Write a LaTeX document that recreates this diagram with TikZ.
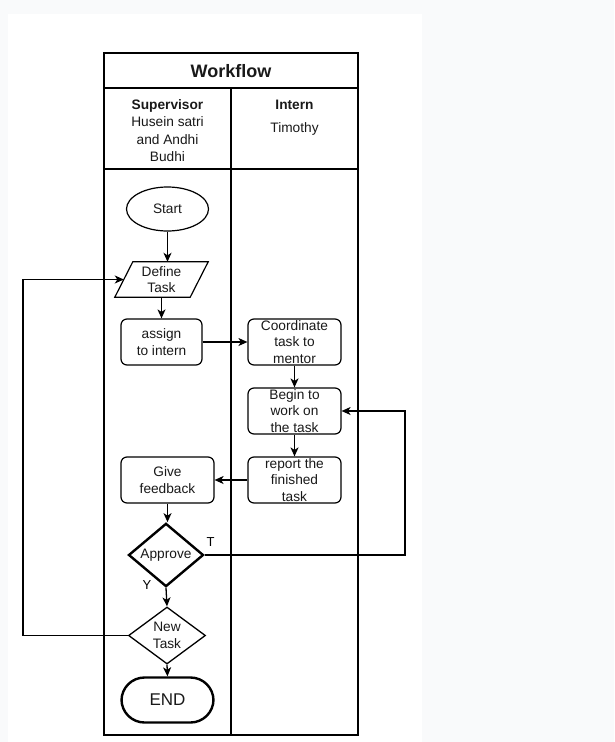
\documentclass[tikz,border=0pt]{standalone}
\usepackage{fontspec}
\setmainfont{Liberation Sans}
\usetikzlibrary{shapes.geometric,arrows.meta}
\definecolor{pagebg}{HTML}{F9FAFB}
\tikzset{
  txt/.style={font=\fontsize{13.7}{16.5}\selectfont, align=center, inner sep=0pt, text=black!90},
  box/.style={txt, draw, line width=1.2pt, rounded corners=6pt, minimum width=93pt, minimum height=46pt},
  lanes/.style={line width=1.3pt},
  conn/.style={line width=1.3pt, -{Stealth[length=9pt,width=8pt,inset=2.5pt]}},
  lbl/.style={font=\fontsize{13}{15}\selectfont, inner sep=0pt}
}
\begin{document}
\begin{tikzpicture}[x=1pt,y=-1pt]
\useasboundingbox (0,0) rectangle (614,742);
\fill[pagebg] (0,0) rectangle (614,742);
\fill[white] (8,14) rectangle (422,742);

% pool and lanes
\draw[lanes] (104,53) rectangle (358,735);
\draw[lanes] (104,88) -- (358,88);
\draw[lanes] (104,169) -- (358,169);
\draw[lanes] (231,88) -- (231,735);
\node[txt, font=\bfseries\fontsize{18}{20}\selectfont] (title) at (231,71) {Workflow};
\node[txt, font=\fontsize{13.7}{17.3}\selectfont] (sup) at (167.5,130.5) {\textbf{Supervisor}\\Husein satri\\and Andhi\\Budhi};
\node[txt, font=\bfseries\fontsize{13.7}{16.5}\selectfont] (intern) at (294.5,104.5) {Intern};
\node[txt] (tim) at (294.5,128.5) {Timothy};

% nodes
\node[txt, draw, ellipse, line width=1.2pt, minimum width=82pt, minimum height=44pt] (start) at (167.5,209) {Start};
\node[txt, minimum width=75pt, minimum height=35pt] (define) at (161.5,279.5) {Define\\Task};
\draw[line width=1.2pt] ([xshift=-9pt]define.south west) -- ([xshift=9pt]define.north west) -- ([xshift=9pt]define.north east) -- ([xshift=-9pt]define.south east) -- cycle;
\node[box, minimum width=81pt] (assign) at (161.5,342) {assign\\to intern};
\node[box] (coord) at (294.5,342) {Coordinate\\task to\\mentor};
\node[box] (begin) at (294.5,411) {Begin to\\work on\\the task};
\node[box] (report) at (294.5,480) {report the\\finished\\task};
\node[box] (give) at (167.5,480) {Give\\feedback};
\node[txt, draw, diamond, line width=2.4pt, minimum width=75pt, minimum height=54pt] (approve) at (166,555) {Approve};
\node[txt, draw, diamond, line width=1.3pt, minimum width=77pt, minimum height=57pt] (newtask) at (167,635.5) {New\\Task};
\node[txt, draw, line width=2.4pt, rounded corners=23pt, minimum width=92pt, minimum height=45pt, font=\fontsize{17}{20}\selectfont] (end) at (167.5,700) {END};

% connectors
\draw[conn] (start.south) -- (start.south |- define.north);
\draw[conn] (define.south) -- (assign.north);
\draw[conn] (assign.east) -- (coord.west);
\draw[conn] (coord.south) -- (begin.north);
\draw[conn] (begin.south) -- (report.north);
\draw[conn] (report.west) -- (give.east);
\draw[conn] (give.south) -- (give.south |- approve.north);
\coordinate (tr) at (405,555);
\draw[conn] (approve.east) -- (tr) |- (begin.east);
\node[lbl] (tlab) at (210.5,542.5) {T};
\draw[conn] (approve.south) -- (newtask.north);
\node[lbl] (ylab) at (147,585) {Y};
\draw[conn] (newtask.south) -- (end.north);
\coordinate (bl) at (23,635.5);
\draw[conn] (newtask.west) -- (bl) |- (define.west);
\end{tikzpicture}
\end{document}
